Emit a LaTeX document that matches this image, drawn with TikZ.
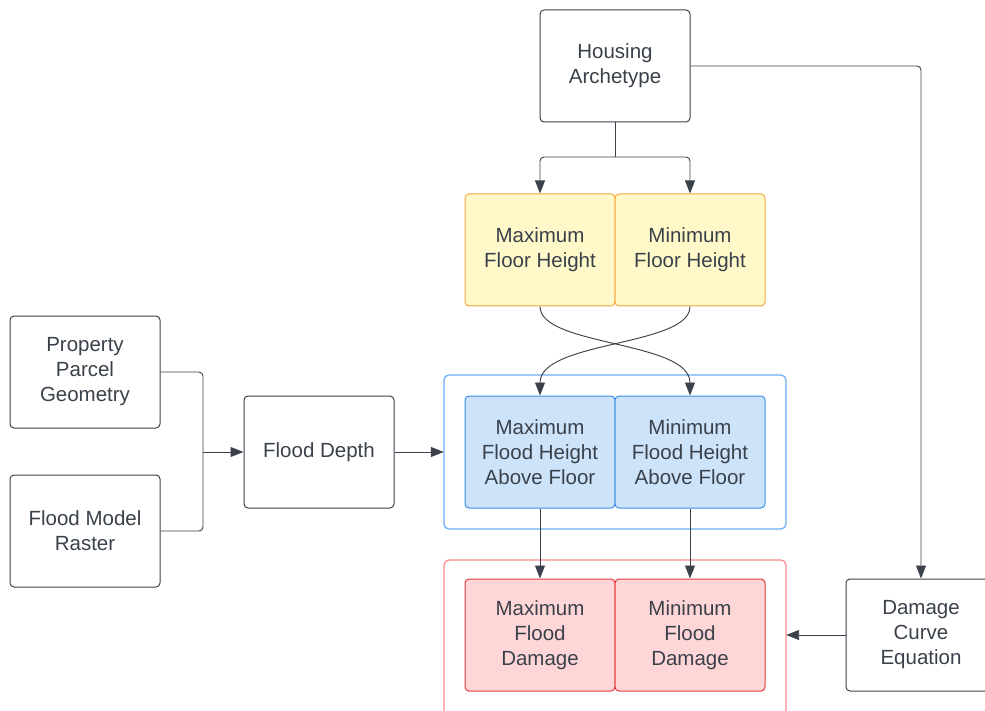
\documentclass[tikz,border=0pt]{standalone}
\usepackage{fontspec}
\setmainfont{Liberation Sans}
\usetikzlibrary{arrows.meta,calc}
\definecolor{txt}{HTML}{3A414A}
\definecolor{ln}{HTML}{3C424C}
\definecolor{yfill}{HTML}{FFF9C9}
\definecolor{yline}{HTML}{F5A742}
\definecolor{bfill}{HTML}{CCE3FA}
\definecolor{bline}{HTML}{3D8EE6}
\definecolor{bcont}{HTML}{6AAEF5}
\definecolor{rfill}{HTML}{FFD6D8}
\definecolor{rline}{HTML}{E3393C}
\definecolor{rcont}{HTML}{F58A8C}
\tikzset{
  box/.style={draw=ln, line width=1pt, rounded corners=4pt, minimum width=150pt, minimum height=112pt,
    align=center, text=txt, font=\fontsize{20.5}{25}\selectfont, inner sep=0pt, fill=white},
  ybox/.style={box, draw=yline, fill=yfill},
  bbox/.style={box, draw=bline, fill=bfill},
  rbox/.style={box, draw=rline, fill=rfill},
  conn/.style={draw=ln, line width=0.95pt, rounded corners=4pt, -{Triangle[length=13pt,width=10pt]}},
  plain/.style={draw=ln, line width=0.95pt, rounded corners=4pt},
}
\begin{document}
\begin{tikzpicture}[x=1pt,y=-1pt]
\useasboundingbox (0,0) rectangle (985,711);
% containers
\draw[bcont, line width=1.3pt, rounded corners=5pt] (444,375) rectangle (786,529);
\draw[rcont, line width=1.3pt, rounded corners=5pt] (444,560) rectangle (786,730);
\node (cblue) at (615,452) [minimum width=342pt, minimum height=154pt, inner sep=0pt] {};
\node (cred) at (615,645) [minimum width=342pt, minimum height=170pt, inner sep=0pt] {};
% nodes
\node[box] (house) at (615,66) {Housing\\Archetype};
\node[ybox] (maxfh) at (540,250) {Maximum\\Floor Height};
\node[ybox] (minfh) at (690,250) {Minimum\\Floor Height};
\node[box] (parcel) at (85,372) {Property\\Parcel\\Geometry};
\node[box] (raster) at (85,531) {Flood Model\\Raster};
\node[box] (depth) at (319,452) {Flood Depth};
\node[bbox] (maxh) at (540,452) {Maximum\\Flood Height\\Above Floor};
\node[bbox] (minh) at (690,452) {Minimum\\Flood Height\\Above Floor};
\node[rbox] (maxd) at (540,635) {Maximum\\Flood\\Damage};
\node[rbox] (mind) at (690,635) {Minimum\\Flood\\Damage};
\node[box] (curve) at (921,635) {Damage\\Curve\\Equation};
% connectors
\coordinate (hs) at (615,157);
\draw[plain] (house.south) -- (hs);
\draw[conn] (hs) -| (maxfh.north);
\draw[conn] (hs) -| (minfh.north);
\draw[conn] (house.east) -| (curve.north);
\draw[conn] (maxfh.south) .. controls ($(maxfh.south)+(0,40)$) and ($(minh.north)+(0,-55)$) .. (minh.north);
\draw[conn] (minfh.south) .. controls ($(minfh.south)+(0,40)$) and ($(maxh.north)+(0,-55)$) .. (maxh.north);
\coordinate (m) at (203,452);
\draw[plain] (parcel.east) -| (m);
\draw[plain] (raster.east) -| (m);
\draw[conn] (m) -- (depth.west);
\draw[conn] (depth.east) -- (cblue.west);
\draw[conn] (maxh.south) -- (maxd.north);
\draw[conn] (minh.south) -- (mind.north);
\draw[conn] (curve.west) -- (cred.east |- curve.west);
\end{tikzpicture}
\end{document}
